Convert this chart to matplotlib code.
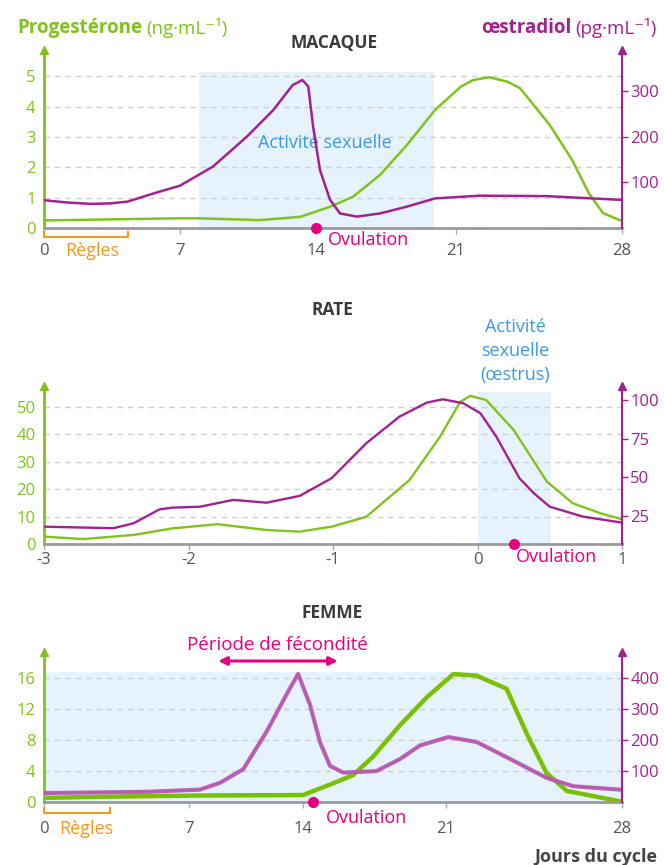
import numpy as np
import matplotlib
matplotlib.use('Agg')
import matplotlib.pyplot as plt
from matplotlib.scale import FuncScale

plt.rcParams['font.family'] = ['Open Sans', 'DejaVu Sans']

GREEN = '#7fc31c'
PURPLE = '#a3218f'
PURPLE_F = '#b65cb6'
PINK = '#e6007e'
ORANGE = '#f39a1e'
BLUE = '#3a9be0'
BAND = '#e6f3fc'
GRAY = '#555555'
TXT = 13  # annotation size
TICK = 12

# ---------------- MACAQUE ----------------
mac_prog_day = [0, 7, 8.0, 11.1, 13.2, 14.7, 15.85, 17.2, 18.55, 19.95, 21.2, 21.72, 22.4,
                23.15, 23.7, 24.95, 25.9, 26.6, 27.2, 27.9, 28]
mac_prog = [0.25, 0.32, 0.32, 0.26, 0.37, 0.70, 1.03, 1.75, 2.74, 3.89, 4.66, 4.88, 4.97,
            4.83, 4.61, 3.4, 2.24, 1.15, 0.49, 0.26, 0.24]
mac_estr_day = [0, 1.2, 2.4, 3.4, 4.3, 5.8, 7.0, 8.7, 10.45, 11.8, 12.8, 13.3, 13.6,
                13.85, 14.2, 14.7, 15.2, 16.05, 17.2, 18.55, 19.95, 22.0, 24.8, 27.9, 28]
mac_estr = [61, 56, 53, 54, 58, 78, 93, 135, 201, 259, 314, 325, 311,
            223, 127, 62, 32, 25, 32, 47, 65, 71, 70, 62, 62]
mac_activity = (8.0, 19.9)
mac_regles = (0, 4.3)
mac_ovulation = 14
mac_ticks = [0, 7, 14, 21, 28]
mac_tick_px = [0, 136, 272, 412, 578]

# ---------------- RATE ----------------
rat_estr_x = [-3, -2.52, -2.38, -2.2, -2.11, -1.92, -1.69, -1.46, -1.23, -1.01, -0.77,
              -0.54, -0.35, -0.24, -0.1, 0.02, 0.13, 0.22, 0.29, 0.39, 0.5, 0.73, 1.0]
rat_estr = [18.1, 17.1, 20.3, 29.3, 30.4, 31.0, 35.4, 33.6, 38, 49.4, 72,
            89.2, 98.3, 100.4, 97.9, 91.4, 76.3, 61.2, 49.4, 39.7, 31, 24.6, 20.7]
rat_prog_x = [-3, -2.73, -2.38, -2.11, -1.8, -1.46, -1.23, -1.01, -0.77, -0.47, -0.26,
              -0.12, -0.05, 0.06, 0.25, 0.48, 0.66, 0.85, 1.0]
rat_prog = [2.7, 1.8, 3.3, 5.7, 7.2, 5.1, 4.5, 6.3, 9.9, 23.3, 39,
            51.7, 53.9, 52.4, 41.5, 22.7, 14.8, 11.2, 9.0]
rat_activity = (0, 0.51)
rat_ovulation = 0.25
rat_ticks = [-3, -2, -1, 0, 1]

# ---------------- FEMME ----------------
fem_estr_day = [0, 5, 7.67, 8.9, 10.33, 11.76, 12.99, 13.7, 14.34, 14.83, 15.32, 15.97,
                17.6, 18.75, 19.73, 21.09, 22.22, 23.55, 25.0, 26.06, 27.92, 28]
fem_estr = [28, 32, 39, 61, 105, 226, 347, 413, 314, 193, 116, 94,
            99, 138, 182, 209, 193, 138, 77, 50, 39, 39]
fem_prog_day = [0, 3, 7.7, 14.0, 15.47, 16.45, 17.42, 18.75, 20.06, 21.29, 22.22, 23.41,
                24.21, 25.0, 25.8, 27.92, 28]
fem_prog = [0.5, 0.65, 0.8, 0.86, 2.37, 3.44, 5.8, 9.9, 13.5, 16.5, 16.3, 14.6,
            8.8, 3.7, 1.4, 0.05, 0]
fem_fecondite = (8.8, 15.7)
fem_regles = (0, 3.2)
fem_ovulation = 14.5
fem_ticks = [0, 7, 14, 21, 28]
fem_tick_px = [0, 145, 259, 402, 578]

W, H = 664, 865
fig = plt.figure(figsize=(W / 100, H / 100), dpi=100)


def px_axes(left, right, bottom, top):
    return fig.add_axes([left / W, 1 - bottom / H, (right - left) / W, (bottom - top) / H])


def hand_scale(ax, ticks, px):
    # the drawn time axis is not regular: map days onto the drawn tick spacing
    fwd = lambda d: np.interp(d, ticks, px)
    inv = lambda p: np.interp(p, px, ticks)
    ax.set_xscale(FuncScale(ax, (fwd, inv)))


def style(ax, ax2, ylim, ylim2, yticks, yticks2, xlim, xticks, xlabels=None, xpad=2):
    ax.set_ylim(*ylim)
    ax2.set_ylim(*ylim2)
    ax.set_xlim(*xlim)
    ax.set_yticks(yticks)
    ax2.set_yticks(yticks2)
    ax.set_xticks(xticks)
    if xlabels is not None:
        ax.set_xticklabels(xlabels)
    ax.yaxis.grid(True, color='#cfcfcf', ls=(0, (4, 3.5)), lw=1)
    ax.set_axisbelow(True)
    for a in (ax, ax2):
        a.spines['top'].set_visible(False)
    ax2.spines['left'].set_visible(False)
    ax2.spines['bottom'].set_visible(False)
    ax.spines['right'].set_visible(False)
    ax.spines['left'].set_color(GREEN)
    ax.spines['left'].set_linewidth(2)
    ax2.spines['right'].set_color(PURPLE)
    ax2.spines['right'].set_linewidth(1.5)
    ax.spines['bottom'].set_color('#9a9a9a')
    ax.spines['bottom'].set_linewidth(2)
    ax.tick_params(axis='y', length=0, pad=6, labelcolor=GREEN, labelsize=TICK)
    ax2.tick_params(axis='y', length=4, width=1, color=PURPLE, labelcolor=PURPLE,
                    labelsize=TICK, pad=2)
    ax.tick_params(axis='x', length=4, width=1, color='#aaaaaa', labelcolor=GRAY,
                   labelsize=TICK, pad=xpad)
    ax.plot(0, 1, marker='^', ms=6, color=GREEN, transform=ax.transAxes, clip_on=False)
    ax2.plot(1, 1, marker='^', ms=6, color=PURPLE, transform=ax2.transAxes, clip_on=False)


def bracket(ax, span, y, text, ytext, xtext):
    tr = ax.get_xaxis_transform()
    ax.plot([span[0], span[0], span[1], span[1]], [y + 0.03, y, y, y + 0.03],
            color=ORANGE, lw=1.5, transform=tr, clip_on=False)
    ax.text(xtext, ytext, text, color=ORANGE, fontsize=TXT, ha='center', va='center',
            transform=tr)


# ---- macaque ----
ax = px_axes(44, 622, 228, 50)
ax2 = ax.twinx()
hand_scale(ax, mac_ticks, mac_tick_px)
style(ax, ax2, (0, 5.87), (0, 391), range(6), [100, 200, 300], (0, 28), mac_ticks,
      xpad=6.5)
ax.axvspan(*mac_activity, ymin=0, ymax=5.15 / 5.87, color=BAND, lw=0, zorder=0)
ax.plot(mac_prog_day, mac_prog, color=GREEN, lw=1.8)
ax2.plot(mac_estr_day, mac_estr, color=PURPLE, lw=1.8)
ax.plot(mac_ovulation, 0, 'o', color=PINK, ms=7, clip_on=False, zorder=6)
ax.text(14.6, -0.07, 'Ovulation', color=PINK, fontsize=TXT, va='center',
        transform=ax.get_xaxis_transform())
ax.text(14.45, 0.478, 'Activité sexuelle', color=BLUE, fontsize=TXT, ha='center',
        va='center', transform=ax.get_xaxis_transform())
bracket(ax, mac_regles, -0.05, 'Règles', -0.13, 2.5)

# ---- rat ----
ax = px_axes(44, 622, 544, 386)
ax2 = ax.twinx()
style(ax, ax2, (0, 57.5), (6.9, 109), range(0, 51, 10), [25, 50, 75, 100], (-3, 1),
      rat_ticks, ['-3', '-2', '-1', '0', '1'])
ax.axvspan(*rat_activity, ymin=0, ymax=55.4 / 57.5, color=BAND, lw=0, zorder=0)
ax.plot(rat_prog_x, rat_prog, color=GREEN, lw=1.7)
ax2.plot(rat_estr_x, rat_estr, color=PURPLE, lw=1.7)
ax.plot(rat_ovulation, 0, 'o', color=PINK, ms=7, clip_on=False, zorder=6)
ax.text(0.265, -0.085, 'Ovulation', color=PINK, fontsize=TXT, va='center',
        transform=ax.get_xaxis_transform())
for i, line in enumerate(['Activité', 'sexuelle', '(œstrus)']):
    ax.text(0.26, (544 - 327 - 24 * i) / 158, line, color=BLUE, fontsize=TXT,
            ha='center', va='center', transform=ax.get_xaxis_transform())

# ---- femme ----
ax = px_axes(44, 622, 801.7, 651.7)
ax2 = ax.twinx()
hand_scale(ax, fem_ticks, fem_tick_px)
style(ax, ax2, (0, 19.4), (0, 485), [0, 4, 8, 12, 16], [100, 200, 300, 400], (0, 28),
      fem_ticks, xpad=10)
ax.axvspan(0.05, 28, ymin=0, ymax=16.8 / 19.4, color=BAND, lw=0, zorder=0)
ax.plot(fem_prog_day, fem_prog, color='#78c000', lw=3.2, solid_joinstyle='miter')
ax2.plot(fem_estr_day, fem_estr, color='#e03a1e', lw=1.2)
ax2.plot(fem_estr_day, fem_estr, color=PURPLE_F, lw=3.0, alpha=0.92)
ax.plot(fem_ovulation, 0, 'o', color=PINK, ms=7, clip_on=False, zorder=6)
ax.text(15.1, -0.11, 'Ovulation', color=PINK, fontsize=TXT, va='center',
        transform=ax.get_xaxis_transform())
bracket(ax, fem_regles, -0.073, 'Règles', -0.18, 2.05)
ax.annotate('', xy=(fem_fecondite[0], 0.938), xytext=(fem_fecondite[1], 0.938),
            xycoords=ax.get_xaxis_transform(), textcoords=ax.get_xaxis_transform(),
            arrowprops=dict(arrowstyle='<|-|>', color=PINK, lw=2.2, mutation_scale=12,
                            shrinkA=0, shrinkB=0))
ax.text(12.4, 1.045, 'Période de fécondité', color=PINK, fontsize=TXT + 0.5, ha='center',
        va='center', transform=ax.get_xaxis_transform())

# ---- titles and labels ----
for txt, x, y in [('MACAQUE', 334, 43), ('RATE', 332, 310), ('FEMME', 332, 613)]:
    fig.text(x / W, 1 - y / H, txt, ha='center', va='center', fontsize=12.5,
             weight='bold', color='#3a3a3a')
fig.text(657 / W, 1 - 857 / H, 'Jours du cycle', ha='right', va='center',
         fontsize=13, weight='bold', color='#444444')

r = fig.canvas.get_renderer()
t1 = fig.text(17 / W, 1 - 28 / H, 'Progestérone', color=GREEN, weight='bold',
              fontsize=13.5, va='center')
b = t1.get_window_extent(r)
fig.text(b.x1 / W + 0.006, 1 - 28 / H, '(ng·mL⁻¹)', color=GREEN, fontsize=13.5,
         va='center')
t2 = fig.text(657 / W, 1 - 28 / H, '(pg·mL⁻¹)', color=PURPLE, fontsize=13.5, va='center',
              ha='right')
b = t2.get_window_extent(r)
fig.text(b.x0 / W - 0.006, 1 - 28 / H, 'œstradiol', color=PURPLE, weight='bold',
         fontsize=13.5, va='center', ha='right')

fig.savefig('out.png', dpi=100)
